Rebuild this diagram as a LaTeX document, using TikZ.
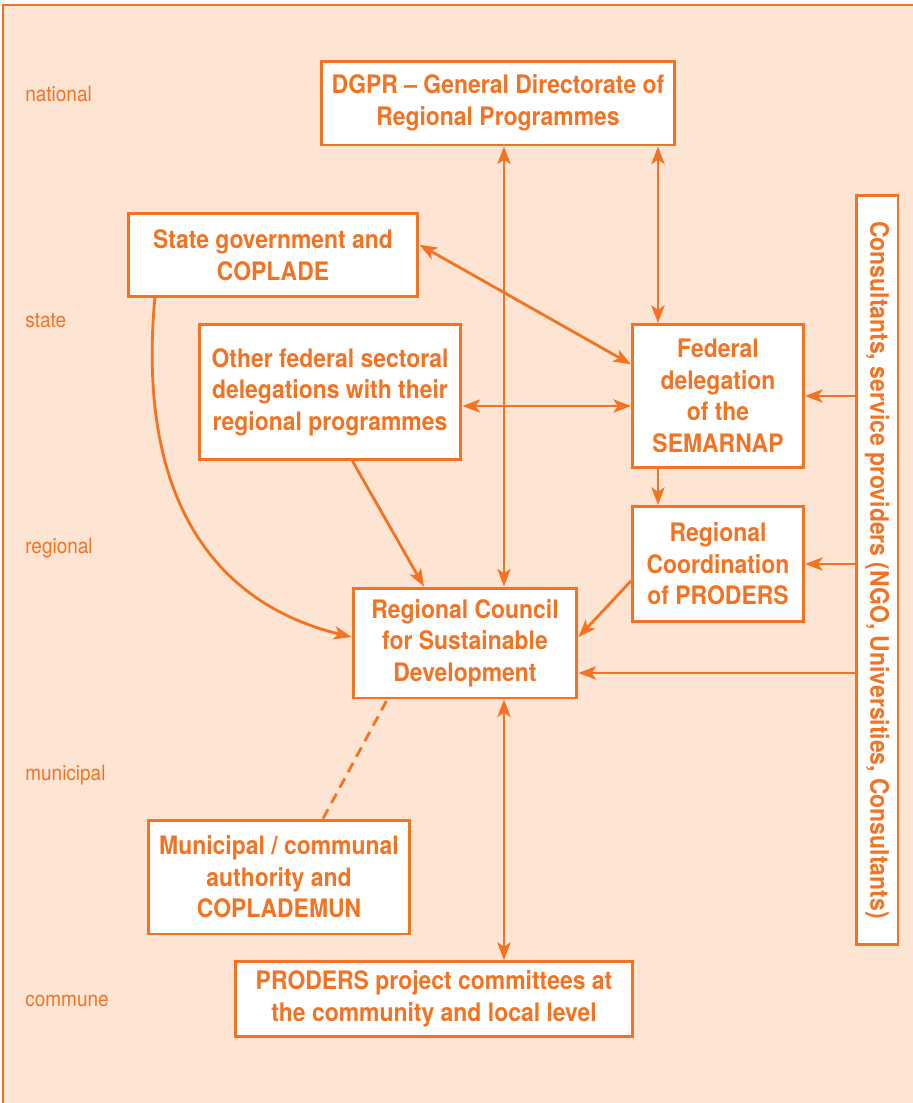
\documentclass[tikz,border=0pt]{standalone}
\usepackage{fontspec}
\setmainfont{TeX Gyre Heros}[FakeStretch=0.9]
\usetikzlibrary{arrows.meta}
\definecolor{proorange}{RGB}{243,115,35}
\definecolor{propeach}{RGB}{254,228,210}
\tikzstyle{box}=[draw=proorange,fill=white,line width=1.7pt,text=proorange,align=center,inner sep=2pt,font=\bfseries\fontsize{14.5}{18}\selectfont]
\tikzstyle{level}=[anchor=west,text=proorange,inner sep=0pt,font=\fontsize{12}{14}\selectfont]
\tikzstyle{link}=[draw=proorange,line width=1.6pt]

\begin{document}
\begin{tikzpicture}[x=0.02cm,y=-0.02cm,>={Stealth[length=10pt,width=7.5pt,inset=2.5pt]}]
      \useasboundingbox (0,0) rectangle (913,1103);
      \fill[propeach] (3,5) rectangle (913,1103);
      \draw[proorange,line width=0.8pt] (3,1103) -- (3,5) -- (913,5);

      % levels
      \node[level] (lnat) at (25,94) {national};
      \node[level] (lsta) at (25,321) {state};
      \node[level] (lreg) at (25,548) {regional};
      \node[level] (lmun) at (25,775) {municipal};
      \node[level] (lcom) at (25,1001) {commune};

      % boxes
      \node[box,minimum width=7.08cm,minimum height=1.68cm] (dgpr) at (498,103) {DGPR -- General Directorate of\\Regional Programmes};
      \node[box,minimum width=5.8cm,minimum height=1.66cm] (state) at (273,255) {State government and\\COPLADE};
      \node[box,minimum width=5.24cm,minimum height=2.7cm] (other) at (330,392) {Other federal sectoral\\delegations with their\\regional programmes};
      \node[box,minimum width=3.42cm,minimum height=2.86cm] (fed) at (718,396) {Federal\\delegation\\of the\\SEMARNAP};
      \node[box,minimum width=3.42cm,minimum height=2.3cm] (rc) at (718,564) {Regional\\Coordination\\of PRODERS};
      \node[box,minimum width=4.48cm,minimum height=2.2cm] (council) at (465,643) {Regional Council\\for Sustainable\\Development};
      \node[box,minimum width=5.22cm,minimum height=2.28cm] (muni) at (279,877) {Municipal / communal\\authority and\\COPLADEMUN};
      \node[box,minimum width=7.94cm,minimum height=1.5cm] (comm) at (434,999) {PRODERS project committees at\\the community and local level};
      \node[box,rotate=-90,minimum width=15cm,minimum height=0.84cm] (cons) at (877,570) {Consultants, service providers (NGO, Universities, Consultants)};

      \coordinate (midx) at (504,0);
      \coordinate (rightx) at (658,0);
      \coordinate (midy) at (0,406);
      \coordinate (lowy) at (0,673);

      % links
      \draw[link,<->] (dgpr.south -| midx) -- (council.north -| midx);
      \draw[link,<->] (council.south -| midx) -- (comm.north -| midx);
      \draw[link,<->] (dgpr.south -| rightx) -- (fed.north -| rightx);
      \draw[link,->] (fed.south -| rightx) -- (rc.north -| rightx);
      \draw[link,<->] (state.4) -- (fed.160);
      \draw[link,<->] (other.east |- midy) -- (fed.west |- midy);
      \draw[link,->] (other.-72) -- (council.126);
      \draw[link,->] (state.200) .. controls (138,480) and (200,600) .. (council.177);
      \draw[link,->] (rc.191) -- (council.3);
      \draw[link,->] (cons.south |- fed.east) -- (fed.east);
      \draw[link,->] (cons.south |- rc.east) -- (rc.east);
      \draw[link,->] (cons.south |- lowy) -- (council.east |- lowy);
      \draw[link,dash pattern=on 6pt off 4pt] (muni.53) -- (council.216);
    \end{tikzpicture}
\end{document}
